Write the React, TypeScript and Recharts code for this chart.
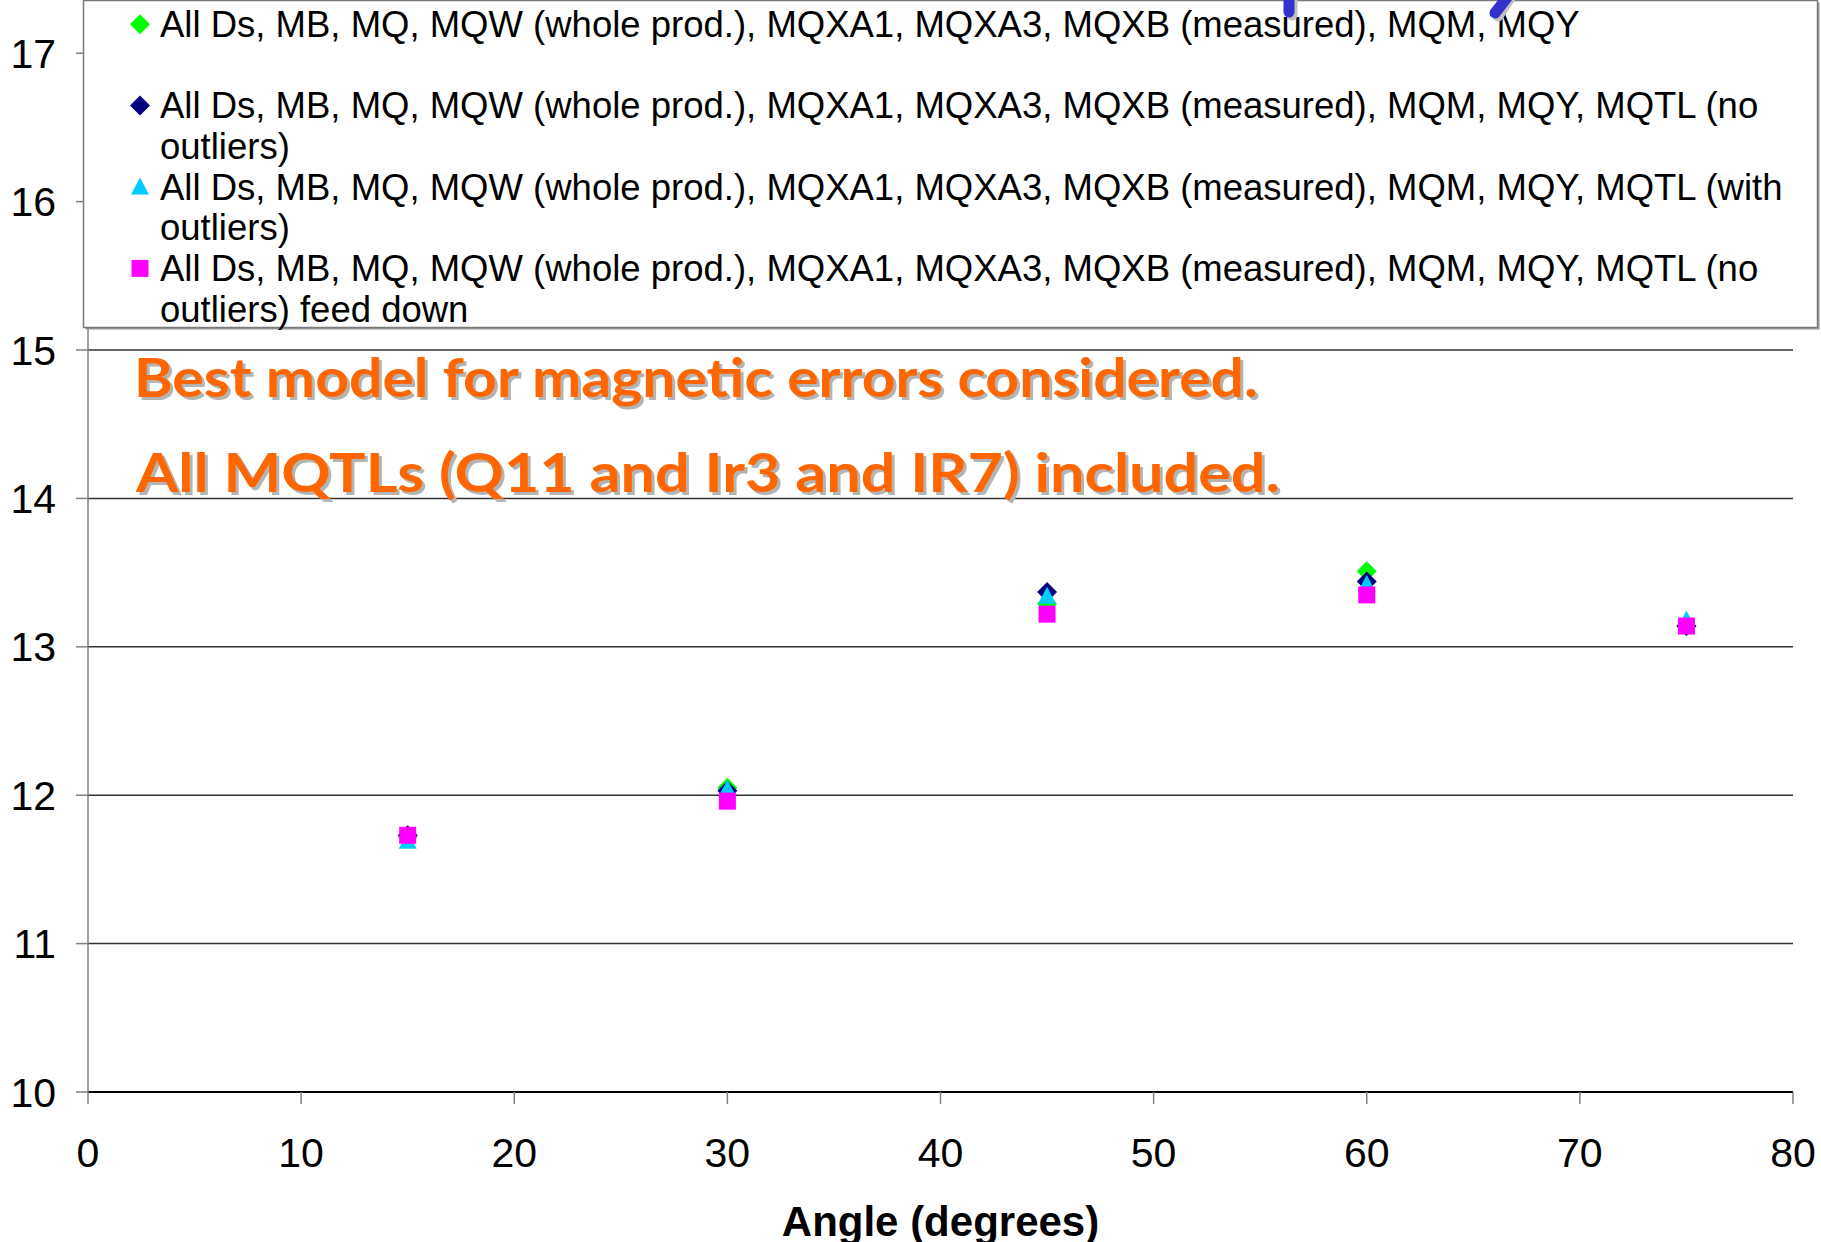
import React from 'react';
import { ScatterChart, Scatter, XAxis, YAxis, CartesianGrid } from 'recharts';

const angles = [15, 30, 45, 60, 75];
const greenVals = [11.72, 12.05, 13.29, 13.51, 13.14];
const navyVals = [11.73, 12.03, 13.37, 13.44, 13.14];
const cyanVals = [11.69, 12.04, 13.34, 13.42, 13.18];
const magentaVals = [11.73, 11.96, 13.22, 13.35, 13.14];

const xTicks = [0, 10, 20, 30, 40, 50, 60, 70, 80];
const yTicks = [10, 11, 12, 13, 14, 15, 16, 17];

// '\n' marks where the legend text wraps in the original
const seriesNames = [
  'All Ds, MB, MQ, MQW (whole prod.), MQXA1, MQXA3, MQXB (measured), MQM, MQY\n',
  'All Ds, MB, MQ, MQW (whole prod.), MQXA1, MQXA3, MQXB (measured), MQM, MQY, MQTL (no\noutliers)',
  'All Ds, MB, MQ, MQW (whole prod.), MQXA1, MQXA3, MQXB (measured), MQM, MQY, MQTL (with\noutliers)',
  'All Ds, MB, MQ, MQW (whole prod.), MQXA1, MQXA3, MQXB (measured), MQM, MQY, MQTL (no\noutliers) feed down',
];

const notes = [
  'Best model for magnetic errors considered.',
  'All MQTLs (Q11 and Ir3 and IR7) included.',
];

const FONT = '"Liberation Sans", Arial, sans-serif';

const toPoints = (vals: number[]) => angles.map((a, i) => ({ x: a, y: vals[i] }));

const Marker = ({ kind, cx, cy, color }: { kind: string; cx: number; cy: number; color: string }) => {
  if (kind === 'diamond') {
    return <polygon points={`${cx},${cy - 10} ${cx + 10},${cy} ${cx},${cy + 10} ${cx - 10},${cy}`} fill={color} />;
  }
  if (kind === 'triangle') {
    return <polygon points={`${cx},${cy - 9.5} ${cx + 9},${cy + 7.5} ${cx - 9},${cy + 7.5}`} fill={color} />;
  }
  return <rect x={cx - 8.5} y={cy - 8.5} width={17} height={17} fill={color} />;
};

const series = [
  { vals: greenVals, color: '#00FF00', kind: 'diamond' },
  { vals: navyVals, color: '#000080', kind: 'diamond' },
  { vals: cyanVals, color: '#00CCFF', kind: 'triangle' },
  { vals: magentaVals, color: '#FF00FF', kind: 'square' },
];

const Overlay = () => {
  const lineH = 40.7;
  return (
    <svg width={1821} height={1242} style={{ position: 'absolute', left: 0, top: 0, pointerEvents: 'none' }}>
      {/* legend box */}
      <rect x={85.5} y={2.5} width={1734} height={327} fill="#9a9a9a" />
      <rect x={83.5} y={0.5} width={1734} height={327} fill="#fff" stroke="#7a7a7a" strokeWidth={1.5} />
      {series.map((s, i) => {
        const lines = seriesNames[i].split('\n');
        const base = 36.7 + i * 2 * lineH;
        return (
          <g key={i}>
            <Marker kind={s.kind} cx={140} cy={base - 12.5} color={s.color} />
            {lines.map((ln, j) => (
              <text key={j} x={160} y={base + j * lineH} fontFamily={FONT} fontSize={36.5} fill="#000">
                {ln}
              </text>
            ))}
          </g>
        );
      })}
      {/* orange annotation */}
      {notes.map((t, i) => {
        const x = i === 0 ? 134 : 136;
        const y = i === 0 ? 397 : 492;
        const len = i === 0 ? 1124 : 1144;
        return (
          <g key={i} fontFamily="Lato, 'DejaVu Sans', sans-serif" fontWeight="bold" fontSize={54}>
            <text x={x + 3} y={y + 3} fill="#b4b4b4" textLength={len} lengthAdjust="spacingAndGlyphs">{t}</text>
            <text x={x} y={y} fill="#FF6600" textLength={len} lengthAdjust="spacingAndGlyphs">{t}</text>
          </g>
        );
      })}
      {/* bits of a hand-drawn stroke cut off at the top */}
      <line x1={1292} y1={-5} x2={1292} y2={15} stroke="#c0c0c0" strokeWidth={11} strokeLinecap="round" />
      <line x1={1289} y1={-5} x2={1289} y2={12} stroke="#3333CC" strokeWidth={11} strokeLinecap="round" />
      <line x1={1512} y1={-5} x2={1498} y2={16} stroke="#c0c0c0" strokeWidth={11} strokeLinecap="round" />
      <line x1={1509} y1={-5} x2={1495} y2={13} stroke="#3333CC" strokeWidth={11} strokeLinecap="round" />
    </svg>
  );
};

const App = () => {
  return (
    <div style={{ position: 'absolute', left: 0, top: 0, width: 1821, height: 1242, background: '#fff' }}>
      <ScatterChart width={1821} height={1242} margin={{ top: 1, right: 28, bottom: 50, left: 0 }}>
        <CartesianGrid horizontal={true} vertical={false} stroke="#333" strokeWidth={1.5} />
        <XAxis
          type="number"
          dataKey="x"
          domain={[0, 80]}
          ticks={xTicks}
          height={100}
          tickSize={12}
          tickMargin={34}
          axisLine={{ stroke: '#000', strokeWidth: 2 }}
          tickLine={{ stroke: '#808080', strokeWidth: 1.5 }}
          tick={{ fill: '#000', fontSize: 41, fontFamily: FONT }}
          label={{
            value: 'Angle (degrees)',
            position: 'bottom',
            offset: 14,
            style: { fill: '#000', fontSize: 42, fontWeight: 'bold', fontFamily: FONT },
          }}
        />
        <YAxis
          type="number"
          dataKey="y"
          domain={[10, 17.352]}
          ticks={yTicks}
          allowDataOverflow
          width={88}
          tickSize={12}
          tickMargin={20}
          axisLine={{ stroke: '#808080', strokeWidth: 1.5 }}
          tickLine={{ stroke: '#808080', strokeWidth: 1.5 }}
          tick={{ fill: '#000', fontSize: 41, fontFamily: FONT }}
        />
        {series.map((s, i) => (
          <Scatter
            key={i}
            name={seriesNames[i].replace('\n', ' ').trim()}
            data={toPoints(s.vals)}
            isAnimationActive={false}
            shape={(p: any) => <Marker kind={s.kind} cx={p.cx} cy={p.cy} color={s.color} />}
          />
        ))}
      </ScatterChart>
      <Overlay />
    </div>
  );
};

export default App;
